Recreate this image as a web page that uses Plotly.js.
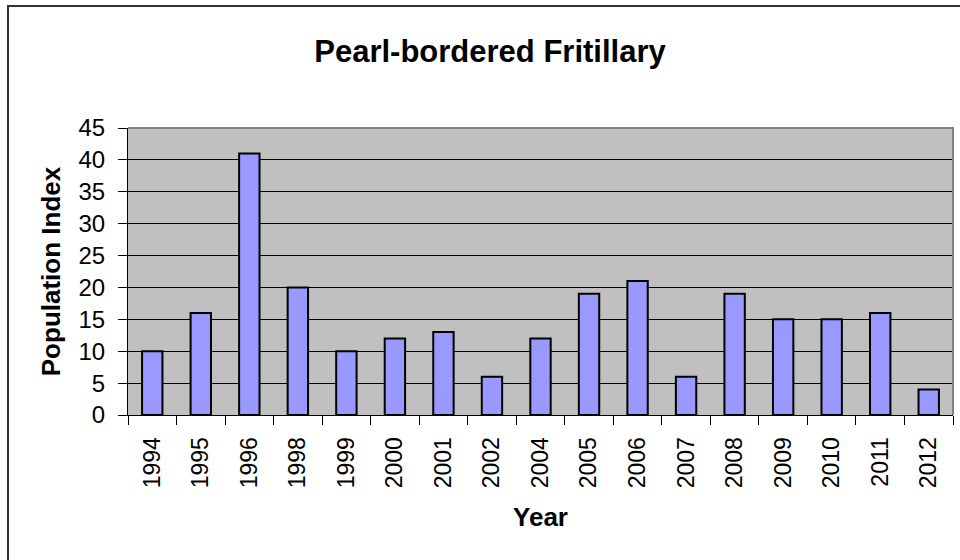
<!DOCTYPE html>
<html>
<head>
<meta charset="utf-8">
<script src="https://cdn.plot.ly/plotly-3.0.1.min.js"></script>
<style>
html, body { margin: 0; padding: 0; background: #fff; }
#chart { width: 960px; height: 560px; position: relative; }
#frame { position: absolute; left: 7px; top: 5px; width: 1200px; height: 800px;
  border-left: 2px solid #333; border-top: 2px solid #333; pointer-events: none; }
</style>
</head>
<body>
<div id="chart"></div>
<div id="frame"></div>
<script>
const years = ["1994","1995","1996","1998","1999","2000","2001","2002","2004","2005","2006","2007","2008","2009","2010","2011","2012"];
const populationIndex = [10, 16, 41, 20, 10, 12, 13, 6, 12, 19, 21, 6, 19, 15, 15, 16, 4];
const yTicks = [0, 5, 10, 15, 20, 25, 30, 35, 40, 45];

const font = "Liberation Sans, Arial, sans-serif";

const trace = {
  type: "bar",
  x: years,
  y: populationIndex,
  width: 0.42,
  marker: { color: "#9999ff", line: { color: "#000000", width: 2 } },
  hoverinfo: "x+y"
};

const layout = {
  width: 960, height: 560,
  margin: { l: 128, r: 7, t: 128, b: 145 },
  paper_bgcolor: "#ffffff",
  plot_bgcolor: "#c0c0c0",
  showlegend: false,
  title: {
    text: "<b>Pearl-bordered Fritillary</b>",
    font: { family: font, size: 31, color: "#000" },
    x: 490 / 960, xref: "container", xanchor: "center",
    y: 1 - 51 / 560, yref: "container", yanchor: "middle"
  },
  xaxis: {
    type: "category",
    tickson: "boundaries",
    ticks: "outside", ticklen: 9, tickwidth: 1, tickcolor: "#000",
    tickangle: -90,
    ticklabelstandoff: 12,
    tickfont: { family: font, size: 23, color: "#000" },
    showline: true, linecolor: "#000", linewidth: 1,
    showgrid: false,
    title: { text: "<b>Year</b>", font: { family: font, size: 26, color: "#000" }, standoff: 20 }
  },
  yaxis: {
    range: [0, 45],
    tickvals: yTicks,
    ticks: "outside", ticklen: 9, tickwidth: 1, tickcolor: "#000",
    ticklabelstandoff: 8,
    tickfont: { family: font, size: 24, color: "#000" },
    showline: true, linecolor: "#000", linewidth: 1,
    showgrid: true, gridcolor: "#000", gridwidth: 1,
    zeroline: false,
    title: { text: "<b>Population Index</b>", font: { family: font, size: 26, color: "#000" }, standoff: 10 }
  },
  shapes: [
    { type: "path", xref: "paper", yref: "paper",
      path: "M 0 1 L 1 1 L 1 0",
      line: { color: "#808080", width: 2 }, layer: "above" }
  ]
};

Plotly.newPlot("chart", [trace], layout, { displayModeBar: false, staticPlot: true });
</script>
</body>
</html>
